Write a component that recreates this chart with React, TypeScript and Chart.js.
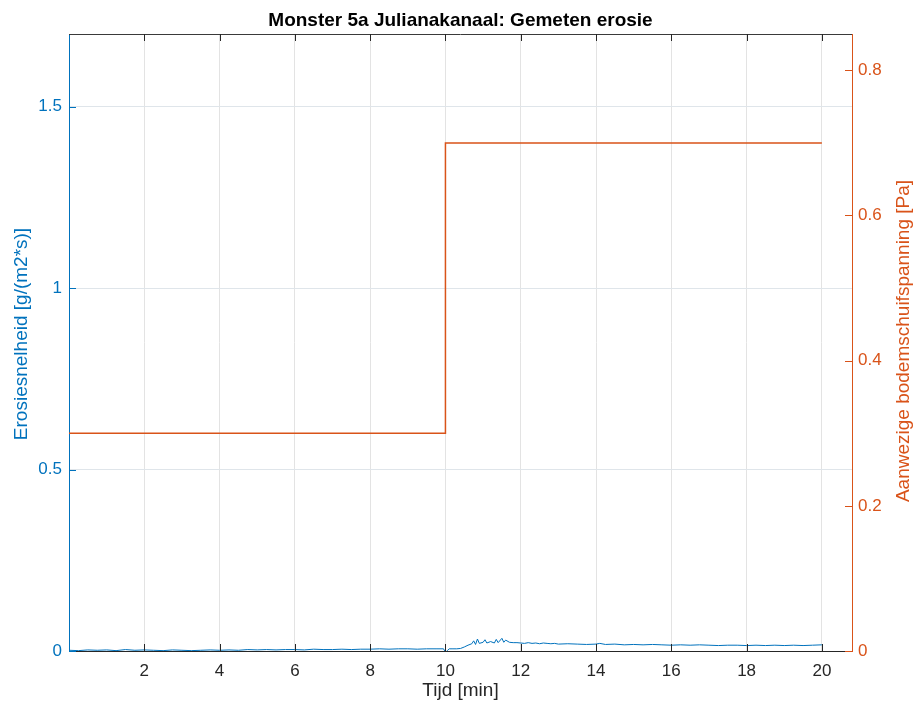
import React, { useEffect, useRef } from "react";
import { Chart, registerables } from "chart.js";

Chart.register(...registerables);

const titleText = "Monster 5a Julianakanaal: Gemeten erosie";
const xLabel = "Tijd [min]";
const leftLabel = "Erosiesnelheid [g/(m2*s)]";
const rightLabel = "Aanwezige bodemschuifspanning [Pa]";

const xTicks = [2, 4, 6, 8, 10, 12, 14, 16, 18, 20];

const erosionTime = [
  0.0, 0.25, 0.5, 0.75, 1.0, 1.25, 1.5, 1.75, 2.0, 2.25, 2.5, 2.75, 3.0, 3.25, 3.5, 3.75,
  4.0, 4.25, 4.5, 4.75, 5.0, 5.25, 5.5, 5.75, 6.0, 6.25, 6.5, 6.75, 7.0, 7.25, 7.5, 7.75,
  8.0, 8.25, 8.5, 8.75, 9.0, 9.25, 9.5, 9.75, 9.95, 10.0, 10.05, 10.1, 10.2, 10.3, 10.4,
  10.5, 10.6, 10.7, 10.75, 10.8, 10.85, 10.9, 11.0, 11.05, 11.1, 11.2, 11.3, 11.35, 11.4,
  11.5, 11.55, 11.6, 11.7, 11.8, 11.9, 12.0, 12.1, 12.2, 12.3, 12.4, 12.5, 12.6, 12.7,
  12.8, 12.9, 13.0, 13.25, 13.5, 13.75, 14.0, 14.1, 14.25, 14.5, 14.75, 15.0, 15.25,
  15.5, 15.75, 16.0, 16.25, 16.5, 16.75, 17.0, 17.25, 17.5, 17.75, 18.0, 18.25, 18.5,
  18.75, 19.0, 19.25, 19.5, 19.75, 20.0,
];

const erosionRate = [
  0.002, 0.001, 0.003, 0.002, 0.003, 0.001, 0.004, 0.002, 0.003, 0.002, 0.001, 0.003, 0.002, 0.001, 0.002, 0.003,
  0.002, 0.003, 0.002, 0.004, 0.003, 0.004, 0.003, 0.004, 0.004, 0.003, 0.005, 0.004, 0.004, 0.005, 0.004, 0.005,
  0.005, 0.006, 0.005, 0.006, 0.006, 0.005, 0.006, 0.006, 0.006, -0.004, 0.001, 0.006, 0.006, 0.006, 0.007,
  0.011, 0.016, 0.02, 0.028, 0.018, 0.033, 0.021, 0.024, 0.031, 0.022, 0.026, 0.022, 0.032, 0.023,
  0.035, 0.024, 0.03, 0.024, 0.023, 0.023, 0.022, 0.021, 0.023, 0.021, 0.022, 0.02, 0.022, 0.021,
  0.02, 0.021, 0.019, 0.02, 0.019, 0.018, 0.019, 0.021, 0.018, 0.019, 0.017, 0.018, 0.017,
  0.018, 0.017, 0.016, 0.017, 0.016, 0.017, 0.016, 0.015, 0.016, 0.016, 0.015, 0.016, 0.015,
  0.016, 0.015, 0.016, 0.015, 0.016, 0.017,
];

const stressTime = [0, 10, 10, 20];
const stressValue = [0.3, 0.3, 0.7, 0.7];

const BLUE = "#0072BD";
const ORANGE = "#D95319";
const DARK = "#262626";
const FONT = "'Liberation Sans', Arial, Helvetica, sans-serif";

const decorPlugin = {
  id: "decor",
  afterDraw(chart: any) {
    const ctx = chart.ctx;
    const { left, right, top, bottom } = chart.chartArea;
    const xs = chart.scales.x;
    const yl = chart.scales.y;
    const yr = chart.scales.y2;
    const L = 7;
    ctx.save();
    ctx.lineWidth = 1;
    // top border
    ctx.strokeStyle = "#3a3a3a";
    ctx.beginPath();
    ctx.moveTo(left, top + 0.5);
    ctx.lineTo(right, top + 0.5);
    ctx.stroke();
    // x inner ticks
    ctx.strokeStyle = DARK;
    ctx.beginPath();
    xTicks.forEach((v) => {
      const px = Math.round(xs.getPixelForValue(v)) + 0.5;
      ctx.moveTo(px, bottom);
      ctx.lineTo(px, bottom - L);
      ctx.moveTo(px, top);
      ctx.lineTo(px, top + L);
    });
    ctx.stroke();
    // left inner ticks
    ctx.strokeStyle = BLUE;
    ctx.beginPath();
    yl.ticks.forEach((t: any) => {
      const py = Math.round(yl.getPixelForValue(t.value)) + 0.5;
      ctx.moveTo(left, py);
      ctx.lineTo(left + L, py);
    });
    ctx.stroke();
    // right inner ticks
    ctx.strokeStyle = ORANGE;
    ctx.beginPath();
    yr.ticks.forEach((t: any) => {
      const py = Math.round(yr.getPixelForValue(t.value)) + 0.5;
      ctx.moveTo(right, py);
      ctx.lineTo(right - L, py);
    });
    ctx.stroke();
    ctx.textAlign = "center";
    ctx.textBaseline = "middle";
    ctx.font = `19px ${FONT}`;
    // left axis title
    ctx.save();
    ctx.fillStyle = BLUE;
    ctx.translate(22, 334);
    ctx.rotate(-Math.PI / 2);
    ctx.fillText(leftLabel, 0, 0);
    ctx.restore();
    // right axis title (reads bottom-to-top)
    ctx.save();
    ctx.fillStyle = ORANGE;
    ctx.translate(904, 341);
    ctx.rotate(-Math.PI / 2);
    ctx.fillText(rightLabel, 0, 0);
    ctx.restore();
    ctx.restore();
  },
};

export default function App() {
  const ref = useRef<HTMLCanvasElement>(null);
  useEffect(() => {
    if (!ref.current) return;
    const chart = new Chart(ref.current, {
      type: "line",
      data: {
        datasets: [
          {
            label: "Erosie",
            data: erosionTime.map((t, i) => ({ x: t, y: erosionRate[i] })),
            borderColor: BLUE,
            borderWidth: 1,
            pointRadius: 0,
            tension: 0,
            yAxisID: "y",
          },
          {
            label: "Schuifspanning",
            data: stressTime.map((t, i) => ({ x: t, y: stressValue[i] })),
            borderColor: ORANGE,
            borderWidth: 1.5,
            pointRadius: 0,
            tension: 0,
            yAxisID: "y2",
          },
        ],
      },
      options: {
        responsive: false,
        animation: false,
        layout: { padding: 0 },
        plugins: {
          legend: { display: false },
          tooltip: { enabled: false },
          title: {
            display: true,
            text: titleText,
            color: "#000000",
            fullSize: false,
            font: { family: FONT, size: 19, weight: "bold" },
            padding: { top: 9, bottom: 2.2 },
          },
        },
        scales: {
          x: {
            type: "linear",
            min: 0,
            max: 20.8,
            afterBuildTicks: (scale: any) => {
              scale.ticks = xTicks.map((v) => ({ value: v }));
            },
            afterFit: (scale: any) => {
              scale.height = 58;
            },
            grid: { color: "#e3e3e3", drawTicks: false },
            border: { color: DARK, width: 1 },
            ticks: {
              color: DARK,
              padding: 10,
              maxRotation: 0,
              autoSkip: false,
              font: { family: FONT, size: 17 },
            },
            title: {
              display: true,
              text: xLabel,
              color: DARK,
              font: { family: FONT, size: 19 },
              padding: { top: 0, bottom: 7 },
            },
          },
          y: {
            type: "linear",
            position: "left",
            min: 0,
            max: 1.7,
            afterFit: (scale: any) => {
              scale.width = 69;
            },
            grid: { color: "#dfe5ea", drawTicks: false },
            border: { color: BLUE, width: 1 },
            ticks: {
              stepSize: 0.5,
              includeBounds: false,
              color: BLUE,
              padding: 7,
              font: { family: FONT, size: 17 },
              callback: (v: any) => String(Number(v)),
            },
          },
          y2: {
            type: "linear",
            position: "right",
            min: 0,
            max: 0.85,
            afterFit: (scale: any) => {
              scale.width = 64;
            },
            grid: { display: false, drawTicks: false },
            border: { color: ORANGE, width: 1 },
            ticks: {
              stepSize: 0.2,
              includeBounds: false,
              color: ORANGE,
              padding: 6,
              font: { family: FONT, size: 17 },
              callback: (v: any) => String(Math.round(Number(v) * 10) / 10),
            },
          },
        },
      },
      plugins: [decorPlugin],
    });
    return () => chart.destroy();
  }, []);
  return (
    <div style={{ position: "absolute", left: 0, top: 0, width: 916, height: 709, background: "#ffffff" }}>
      <canvas ref={ref} width={916} height={709} />
    </div>
  );
}
